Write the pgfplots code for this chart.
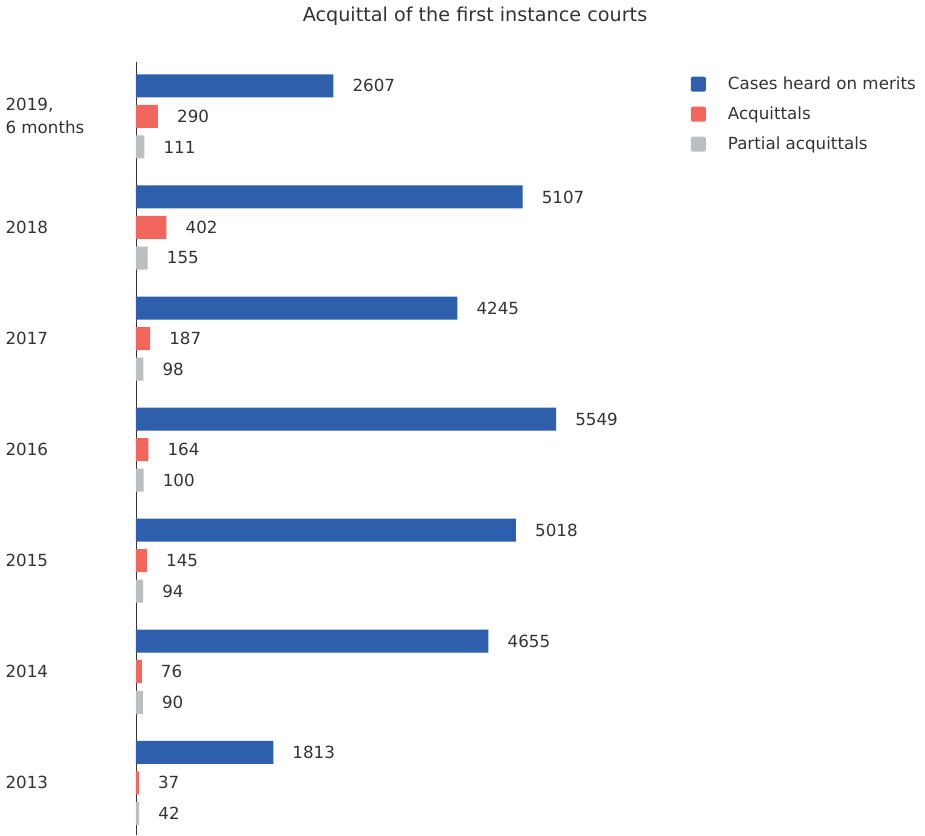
\documentclass[border=0pt]{standalone}
\usepackage{fontspec}
\setmainfont{DejaVu Sans}
\usepackage{pgfplots}
\pgfplotsset{compat=1.18}

\definecolor{merits}{HTML}{2E5FAC}
\definecolor{acq}{HTML}{F2665E}
\definecolor{partial}{HTML}{BDBEC2}
\definecolor{txt}{HTML}{333333}

\begin{document}
\begin{tikzpicture}[font=\fontsize{16.7}{23}\selectfont, text=txt]
\begin{axis}[
    scale only axis,
    width=530pt, height=773pt,
    xmin=0, xmax=7000,
    ymin=-0.47, ymax=6.49,
    axis x line=none,
    axis y line=left,
    axis line style={-, draw=txt, line width=0.9pt},
    xtick=\empty,
    ytick={0,1,2,3,4,5,6},
    yticklabels={2013,2014,2015,2016,2017,2018,{2019,\\6 months}},
    major tick length=0pt,
    yticklabel style={align=left, anchor=west, xshift=-134pt, text=txt},
    xbar, bar width=23pt, bar shift=0pt,
    /pgf/number format/.cd, 1000 sep={}, assume math mode=true, /pgfplots/.cd,
    nodes near coords,
    every node near coord/.append style={anchor=west, inner sep=0pt, xshift=19pt, text=txt},
    legend style={at={(1.047,0.981)}, anchor=north west, draw=none, fill=none,
        inner sep=0pt, outer sep=0pt,
        row sep=13pt, column sep=0pt,
        nodes={inner sep=0pt, text height=12pt, text depth=4pt, text=txt}},
    legend cell align=left,
    legend image code/.code={\fill[#1, rounded corners=2pt] (0pt,-6pt) rectangle (15pt,9pt); \path (37pt,0pt);},
]
\addplot[fill=merits, draw=none] coordinates {
    (1813,0.275) (4655,1.275) (5018,2.275) (5549,3.275) (4245,4.275) (5107,5.275) (2607,6.275)};
\addlegendentry{Cases heard on merits}
\addplot[fill=acq, draw=none] coordinates {
    (37,0) (76,1) (145,2) (164,3) (187,4) (402,5) (290,6)};
\addlegendentry{Acquittals}
\addplot[fill=partial, draw=none] coordinates {
    (42,-0.275) (90,0.725) (94,1.725) (100,2.725) (98,3.725) (155,4.725) (111,5.725)};
\addlegendentry{Partial acquittals}
\end{axis}
\node[anchor=base, font=\fontsize{19.2}{22}\selectfont] at (339pt,813pt) {Acquittal of the first instance courts};
\pgfresetboundingbox
\path[use as bounding box] (-136pt,0pt) rectangle (789pt,835pt);
\end{tikzpicture}
\end{document}
